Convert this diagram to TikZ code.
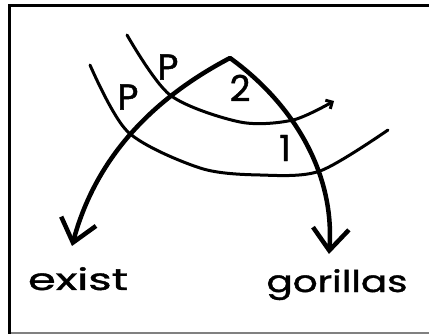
\documentclass[tikz,border=0pt]{standalone}
\usepackage{fontspec}
\setmainfont{Poppins}
\newfontfamily\handfont{Poppins}[FakeBold=1.2]
\usepackage{graphicx}
\usetikzlibrary{arrows.meta}
\begin{document}
\begin{tikzpicture}[x=1pt,y=-1pt,
  arcline/.style={line width=3pt, line cap=round},
  mainline/.style={line width=4.5pt, line cap=round, line join=round},
  lbl/.style={inner sep=0pt, font=\handfont\fontsize{36}{36}\selectfont},
  word/.style={inner sep=0pt, anchor=base, font=\handfont\fontsize{30}{30}\selectfont}]
\useasboundingbox (0,0) rectangle (429,334);
\fill[white] (0,0) rectangle (429,334);
% frame
\draw[line width=3pt] (9.5,334) -- (9.5,6) -- (429,6);
\draw[gray, line width=2pt] (11,333) -- (429,333);
% arcs
\draw[arcline] plot[smooth] coordinates {(90,65) (128,132) (200,168) (260,175) (320,171) (388,130)};
\draw[arcline, -{Straight Barb[length=5pt,width=10pt]}] plot[smooth] coordinates {(127,35) (170,95) (240,122) (293,120) (334,101)};
% labels
\node[lbl] (p1) at (128,97) {P};
\node[lbl] (p2) at (168,67) {P};
\node[lbl] (two) at (240,88) {2};
\node[lbl] (one) at (285,148) {1};
% words
\node[word] (exist) at (78,290) {\resizebox{100pt}{\height}{exist}};
\node[word] (gorillas) at (337,292) {\resizebox{141pt}{\height}{gorillas}};
% main path
\coordinate (tipL) at (72,246);
\coordinate (corner) at (230,58);
\coordinate (tipR) at (329,254);
\draw[mainline, {Straight Barb[length=22pt,width=36pt]}-{Straight Barb[length=22pt,width=36pt]}]
  (tipL) .. controls (95,160) and (150,100) .. (corner)
  .. controls (295,105) and (335,175) .. (tipR);
\end{tikzpicture}
\end{document}
